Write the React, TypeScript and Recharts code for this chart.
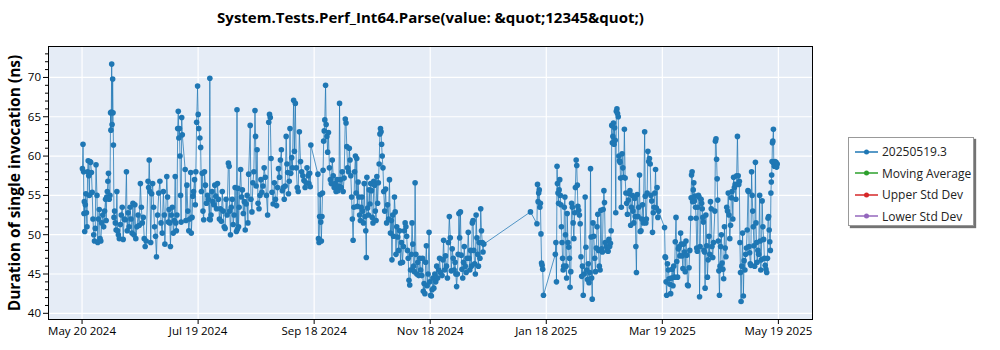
import React from "react";
import { LineChart, Line, XAxis, YAxis, CartesianGrid } from "recharts";

// x = days since May 20 2024, y = duration (ns)
const may2024Runs: [number, number][] = [
  [0.2, 58.4], [0.5, 61.5], [0.8, 58.0], [1.0, 52.7], [1.2, 54.2], [1.4, 50.4], [1.7, 53.8], [2.0, 55.2], [2.3, 52.8], [2.6, 51.0],
  [2.9, 58.0], [3.2, 59.4], [3.5, 57.5], [3.8, 55.0], [4.1, 59.3], [4.5, 59.2], [4.9, 57.9], [5.3, 55.4], [5.7, 52.0], [6.1, 50.0],
  [6.5, 49.2], [6.9, 50.8], [7.3, 58.9], [7.8, 55.0], [8.2, 49.0], [8.6, 52.0], [9.0, 53.2], [9.4, 49.5], [9.8, 49.2], [10.3, 51.5],
  [10.8, 52.5], [11.3, 51.0], [11.8, 53.0], [12.3, 54.5], [12.6, 51.8], [12.9, 54.8], [13.2, 55.5], [13.5, 56.8], [13.8, 57.8], [14.2, 54.5],
  [14.6, 55.0], [14.9, 65.5], [15.1, 63.3], [15.3, 65.6], [15.5, 71.7], [15.7, 64.0], [16.0, 69.8], [16.2, 65.5], [16.4, 61.4], [16.7, 52.2],
  [17.0, 53.0], [17.4, 51.5], [17.8, 50.6], [18.2, 55.5], [18.6, 50.5], [19.0, 50.0], [19.5, 49.5], [20.0, 51.3], [20.5, 52.5], [21.0, 53.5],
  [21.5, 49.4], [22.0, 52.0], [22.6, 51.9], [23.2, 58.0], [23.6, 50.5], [24.1, 52.8], [24.6, 51.0], [25.1, 53.5], [25.6, 52.0], [26.1, 50.2],
  [26.6, 54.0], [27.1, 50.0], [27.6, 53.8], [28.1, 49.5], [28.7, 51.0], [29.3, 52.5], [29.9, 51.2], [30.5, 56.5], [31.0, 53.5], [31.5, 51.5],
  [32.0, 52.2], [32.5, 49.5], [33.0, 48.5], [33.5, 49.2], [34.5, 56.8], [34.8, 56.0], [35.1, 59.5], [35.5, 55.5], [35.9, 49.0], [36.4, 55.2],
  [36.9, 56.5], [37.4, 53.5], [37.9, 51.0], [38.4, 49.8], [38.9, 47.2], [39.5, 52.5], [40.1, 55.3], [40.7, 56.8], [41.3, 51.5], [41.9, 50.2],
];

const julAug2024Runs: [number, number][] = [
  [42.5, 55.5], [43.0, 52.5], [43.3, 48.8], [44.3, 57.4], [44.7, 54.8], [45.1, 51.6], [45.5, 53.2], [45.9, 51.5], [46.2, 48.5], [46.7, 52.5],
  [47.2, 53.5], [47.7, 50.2], [48.2, 51.8], [48.7, 57.4], [49.0, 51.5], [49.3, 50.5], [49.6, 52.5], [50.0, 63.5], [50.3, 65.7], [50.6, 62.3],
  [50.9, 63.5], [51.2, 60.0], [51.5, 55.0], [51.8, 51.6], [52.1, 64.9], [52.4, 62.7], [53.9, 58.3], [54.3, 51.8], [54.8, 56.3], [55.3, 53.0],
  [55.8, 50.5], [56.3, 52.0], [56.8, 57.9], [57.1, 50.2], [57.5, 52.2], [57.9, 54.9], [58.3, 55.5], [58.8, 57.0], [59.2, 53.8], [59.5, 58.0],
  [59.9, 64.3], [60.4, 68.9], [60.7, 65.3], [61.0, 63.5], [61.6, 62.3], [62.0, 61.1], [62.4, 55.5], [62.8, 57.8], [63.2, 53.0], [63.6, 51.9],
  [64.0, 58.0], [64.5, 56.3], [65.0, 54.0], [65.6, 55.0], [66.0, 54.5], [66.6, 52.0], [66.8, 69.9], [67.0, 51.9], [67.4, 52.5], [67.9, 55.5],
  [68.4, 54.2], [68.9, 53.8], [69.4, 56.3], [69.9, 54.9], [70.3, 53.3], [70.8, 56.5], [71.3, 54.5], [71.8, 52.0], [72.3, 53.3], [72.8, 51.7],
  [73.3, 55.5], [73.8, 53.0], [74.3, 51.0], [74.8, 50.8], [75.3, 54.5], [75.8, 52.5], [76.5, 59.1], [76.9, 58.7], [77.2, 53.0], [77.6, 50.0],
  [78.0, 53.5], [78.5, 54.5], [79.0, 51.3], [79.5, 52.5], [80.0, 56.0], [80.7, 50.4], [81.0, 65.9], [81.2, 50.7], [81.5, 55.9], [81.8, 51.0],
  [82.1, 53.5], [82.9, 58.3], [83.4, 54.8], [83.8, 55.7], [84.3, 52.7], [84.8, 54.2], [85.3, 50.6], [85.8, 53.9], [86.3, 55.0], [86.7, 51.5],
  [87.1, 57.7], [87.9, 63.9], [88.3, 54.5], [88.8, 52.9], [89.3, 56.6], [89.8, 58.0], [90.4, 65.8], [90.7, 62.5], [91.0, 56.2], [91.5, 60.8],
  [92.0, 54.0], [92.5, 53.3], [93.0, 55.0], [93.5, 57.0], [94.0, 55.4], [94.6, 56.2], [95.2, 58.5], [95.8, 57.3], [96.4, 55.0], [97.0, 52.5],
  [97.6, 64.3], [98.0, 65.3], [98.4, 64.9], [98.8, 59.7], [99.3, 55.4], [99.9, 53.9],
];

const sepOct2024Runs: [number, number][] = [
  [100.5, 56.6], [101.1, 54.5], [101.7, 53.7], [102.2, 56.0], [102.7, 58.4], [103.2, 57.3], [103.7, 59.5], [104.2, 60.8], [104.7, 55.6], [105.2, 56.0],
  [105.7, 54.5], [106.2, 56.2], [106.7, 62.5], [107.1, 59.0], [107.5, 57.9], [107.9, 55.2], [108.3, 56.8], [108.7, 63.5], [109.1, 57.8], [109.6, 59.8],
  [110.0, 58.5], [110.6, 67.1], [111.0, 60.6], [111.5, 66.7], [112.0, 58.5], [112.5, 56.0], [113.0, 55.5], [113.6, 63.1], [114.2, 59.3], [114.8, 58.0],
  [115.4, 57.5], [116.0, 56.9], [116.6, 56.0], [117.1, 56.6], [117.6, 58.5], [118.2, 57.5], [118.6, 56.5], [119.0, 57.8], [119.3, 56.1], [119.6, 61.4],
  [123.3, 57.7], [123.6, 49.5], [123.9, 49.0], [124.2, 52.3], [124.5, 55.1], [124.8, 51.6], [125.1, 49.2], [125.4, 52.3], [125.7, 55.3], [126.0, 58.2],
  [126.3, 61.9], [126.6, 63.2], [126.9, 64.6], [127.3, 69.0], [127.6, 64.0], [128.0, 62.5], [128.4, 60.5], [128.8, 63.0], [129.3, 58.5], [129.8, 57.0],
  [130.3, 56.5], [130.8, 59.5], [131.3, 57.5], [131.8, 56.0], [132.3, 56.5], [132.8, 55.5], [133.3, 57.0], [133.8, 55.6], [134.3, 56.2], [134.6, 66.7],
  [135.0, 57.0], [135.5, 56.0], [136.0, 58.0], [136.5, 55.5], [137.0, 57.2], [137.6, 64.7], [138.0, 64.2], [138.4, 61.2], [138.8, 58.5], [139.3, 58.0],
  [139.7, 61.0], [140.1, 59.5], [140.5, 57.5], [140.9, 54.8], [141.3, 52.0], [141.7, 49.3], [142.1, 53.5], [142.5, 58.0], [142.9, 60.0], [143.3, 55.3],
  [143.6, 59.7], [143.9, 53.6], [144.3, 56.7], [144.7, 54.8], [145.1, 52.5], [145.5, 51.8], [145.9, 53.5], [146.3, 54.8], [146.7, 53.0], [147.1, 51.5],
  [147.5, 56.5], [147.9, 52.3], [148.3, 50.5], [148.6, 47.1], [148.9, 57.3], [149.3, 53.4], [149.7, 52.5], [150.1, 55.7], [150.5, 53.9], [150.9, 56.5],
  [151.3, 55.6], [151.7, 52.2], [152.1, 51.5], [152.5, 56.8], [152.9, 56.3], [153.3, 53.0], [153.7, 51.8], [154.1, 57.4], [154.5, 54.0], [154.9, 56.6],
  [155.3, 59.0], [155.7, 62.8], [156.0, 63.5], [156.3, 63.1], [156.6, 61.5], [156.9, 60.0], [157.3, 58.5], [157.7, 55.5], [158.2, 53.0], [158.7, 55.8],
  [159.2, 51.5], [159.7, 53.8],
];

const novDec2024Runs: [number, number][] = [
  [160.2, 52.0], [160.7, 57.0], [161.2, 50.2], [161.7, 51.8], [162.0, 46.8], [162.4, 52.5], [162.8, 49.8], [163.3, 54.8], [163.7, 52.9], [164.1, 47.5],
  [164.5, 51.0], [165.0, 49.7], [165.5, 48.0], [166.0, 50.5], [166.5, 46.4], [167.0, 49.0], [167.5, 46.5], [168.0, 48.5], [168.5, 50.5], [168.9, 51.5],
  [169.3, 51.0], [169.7, 49.8], [170.1, 48.0], [170.5, 47.0], [170.9, 44.2], [171.3, 43.6], [171.7, 45.5], [172.1, 47.5], [172.5, 51.5], [172.9, 48.8],
  [173.3, 46.0], [173.7, 45.3], [174.1, 56.6], [174.5, 47.5], [175.0, 45.0], [175.5, 46.5], [176.0, 44.8], [176.5, 47.0], [177.0, 45.5], [177.6, 44.8],
  [178.0, 47.0], [178.4, 42.8], [178.8, 43.8], [179.2, 42.5], [179.6, 46.5], [180.0, 48.6], [180.4, 43.5], [180.9, 45.0], [181.4, 50.3], [181.8, 44.0],
  [182.2, 42.3], [182.6, 42.2], [183.0, 43.0], [183.4, 44.5], [183.9, 43.2], [184.4, 45.0], [184.9, 44.0], [185.4, 46.0], [185.9, 44.5], [186.4, 45.5],
  [186.9, 47.0], [187.4, 45.2], [188.2, 44.8], [188.6, 46.8], [189.0, 49.3], [189.5, 45.5], [190.0, 47.3], [190.5, 46.0], [191.0, 44.5], [191.5, 49.0],
  [192.0, 52.3], [192.5, 49.6], [193.0, 45.4], [193.5, 48.2], [194.0, 47.0], [194.5, 45.5], [195.0, 46.5], [195.4, 45.0], [195.8, 43.4], [196.2, 45.0],
  [196.6, 47.5], [197.0, 52.7], [197.4, 49.6], [197.8, 52.9], [198.2, 47.4], [198.6, 45.6], [199.0, 44.5], [199.4, 46.5], [199.8, 48.5], [200.3, 46.0],
  [200.8, 45.2], [201.3, 47.0], [201.9, 50.3], [202.3, 47.0], [202.7, 45.5], [203.1, 48.0], [203.5, 46.0], [204.0, 51.5], [204.4, 51.8], [204.8, 48.0],
  [205.2, 46.3], [205.6, 45.0], [206.0, 52.5], [206.4, 49.6], [206.8, 47.5], [207.2, 46.0], [207.6, 49.0], [208.0, 47.0], [208.4, 53.3], [208.8, 50.5],
  [209.2, 49.0], [209.6, 47.8], [210.0, 48.8], [234.4, 52.9],
];

const janFeb2025Runs: [number, number][] = [
  [237.8, 51.4], [238.1, 56.4], [238.4, 54.2], [238.7, 55.3], [239.0, 55.7], [239.3, 53.5], [239.6, 54.0], [239.9, 50.1], [240.2, 46.4], [240.5, 46.1],
  [240.8, 45.6], [241.2, 42.3], [247.4, 47.5], [247.7, 49.0], [248.0, 44.0], [248.3, 58.7], [248.5, 56.5], [248.8, 55.3], [249.1, 54.0], [249.4, 55.7],
  [249.7, 57.0], [250.0, 55.0], [250.3, 53.8], [250.6, 51.0], [250.9, 49.0], [251.2, 47.0], [251.5, 45.5], [251.8, 46.0], [252.1, 53.5], [252.4, 54.8],
  [252.7, 50.0], [253.0, 46.0], [253.3, 44.5], [253.6, 52.7], [254.0, 49.0], [254.4, 48.4], [254.8, 47.0], [255.1, 43.3], [255.5, 45.3], [255.9, 54.0],
  [256.3, 53.5], [256.7, 51.5], [257.1, 49.5], [257.5, 52.8], [257.9, 56.0], [258.3, 59.5], [258.6, 58.8], [258.9, 56.3], [259.2, 53.6], [259.6, 53.1],
  [260.0, 52.5], [260.4, 51.4], [260.8, 47.2], [261.2, 44.7], [261.6, 46.0], [262.0, 42.3], [262.5, 45.0], [263.0, 54.8], [263.4, 48.4], [263.8, 45.5],
  [264.2, 44.3], [264.6, 46.3], [265.0, 43.9], [265.4, 45.2], [265.8, 58.4], [266.1, 49.7], [266.4, 44.5], [266.7, 41.8], [267.1, 51.5], [267.5, 49.8],
  [268.0, 47.0], [268.4, 45.3], [268.8, 48.3], [269.2, 51.0], [269.6, 52.6], [270.0, 48.0], [270.4, 46.0], [270.8, 45.5], [271.2, 53.1], [271.6, 48.2],
  [272.0, 47.8], [272.4, 53.2], [272.8, 55.6], [273.1, 54.1], [273.5, 49.0], [274.0, 48.5], [274.5, 48.0], [275.0, 47.9], [275.4, 49.4], [275.8, 48.5],
  [276.2, 48.9], [276.6, 50.5], [276.9, 63.9], [277.2, 61.7], [277.5, 62.5], [277.8, 64.2], [278.1, 61.5], [278.4, 63.6], [278.7, 62.0], [279.0, 52.8],
  [279.3, 65.7], [279.6, 66.0], [279.9, 65.4], [280.3, 65.0], [280.6, 60.0], [280.9, 59.4], [281.2, 59.2], [281.5, 57.2], [281.9, 53.5], [282.3, 60.3],
  [282.7, 58.5], [283.1, 57.3], [283.5, 63.4], [283.9, 57.2], [284.3, 55.3], [284.7, 54.0], [285.1, 52.6], [285.6, 54.4], [286.0, 55.2], [286.4, 55.6],
  [286.8, 51.2], [287.2, 53.5], [287.6, 55.0], [288.0, 53.0], [288.4, 51.5],
];

const marMay2025Runs: [number, number][] = [
  [288.9, 54.6], [289.2, 52.3], [289.5, 48.5], [289.8, 45.2], [290.2, 55.1], [290.6, 52.3], [291.0, 53.5], [291.4, 57.6], [291.8, 50.4], [292.2, 50.5],
  [292.6, 52.0], [293.0, 53.8], [293.4, 51.5], [294.1, 63.1], [294.4, 54.9], [294.7, 51.5], [295.0, 52.0], [295.4, 55.3], [295.8, 60.6], [296.2, 59.3],
  [296.6, 59.7], [297.0, 59.0], [297.4, 55.0], [297.8, 54.3], [298.2, 50.3], [298.6, 52.8], [299.0, 53.5], [299.4, 55.3], [299.8, 58.3], [300.2, 53.4],
  [300.6, 56.0], [301.0, 52.2], [301.4, 53.0], [304.5, 50.9], [304.8, 47.2], [305.0, 47.1], [305.3, 44.0], [305.6, 42.3], [306.0, 46.3], [306.5, 45.5],
  [306.9, 44.4], [307.3, 43.7], [307.7, 42.5], [308.1, 44.5], [308.5, 45.6], [308.9, 43.5], [309.3, 46.0], [309.7, 44.6], [310.1, 49.1], [310.5, 52.2],
  [310.9, 46.6], [311.3, 44.6], [311.7, 48.2], [312.1, 48.5], [312.5, 47.3], [312.9, 50.2], [313.3, 48.8], [313.7, 47.3], [314.1, 45.7], [314.5, 48.8],
  [314.9, 47.8], [315.3, 45.3], [315.7, 49.2], [316.1, 47.4], [316.5, 43.6], [316.9, 43.5], [317.3, 45.8], [317.7, 48.0], [318.2, 52.1], [318.4, 54.7],
  [318.6, 57.6], [318.9, 58.0], [319.2, 54.2], [319.5, 55.7], [319.8, 56.6], [320.1, 54.3], [320.4, 54.9], [320.7, 53.5], [321.0, 52.1], [321.3, 48.3],
  [321.6, 47.9], [321.9, 53.5], [322.2, 55.0], [322.5, 54.8], [322.8, 42.1], [323.1, 48.5], [323.6, 54.5], [323.9, 54.0], [324.2, 53.3], [324.5, 52.2],
  [324.8, 51.6], [325.1, 48.0], [325.4, 47.8], [325.7, 43.2], [326.1, 52.5], [326.5, 48.6], [326.9, 44.6], [327.3, 46.8], [327.7, 49.8], [328.1, 47.5],
  [328.5, 54.2], [328.9, 53.3], [329.3, 48.5], [329.7, 47.1], [330.1, 49.0], [330.8, 53.0], [331.1, 61.9], [331.4, 62.2], [331.7, 59.6], [332.0, 57.1],
  [332.3, 54.4], [332.6, 49.2], [332.9, 45.4], [333.2, 42.3], [333.5, 46.0], [333.8, 48.5], [334.2, 50.0], [334.6, 46.4], [335.0, 45.6], [335.4, 44.4],
  [335.8, 51.0], [336.2, 48.3], [336.6, 47.2], [337.0, 53.5], [337.4, 53.0], [337.8, 55.3], [338.2, 52.5], [338.6, 49.5], [339.0, 51.2], [339.4, 54.7],
  [339.8, 55.5], [340.2, 52.0], [340.6, 57.3], [341.0, 56.0], [341.4, 56.4], [341.8, 54.5], [342.2, 57.5], [342.6, 62.5], [343.0, 57.5], [343.3, 56.4],
  [343.6, 56.8], [343.9, 49.0], [344.2, 45.2], [344.5, 41.5], [344.9, 46.0], [345.3, 50.2], [345.7, 42.2], [346.1, 46.7], [346.5, 45.5], [346.9, 47.5],
  [347.3, 48.3], [347.7, 50.6], [348.1, 55.6], [348.4, 55.5], [348.7, 48.5], [349.0, 47.7], [349.3, 46.3], [349.6, 46.1], [350.0, 58.0], [350.3, 55.0],
  [350.6, 53.0], [350.9, 51.0], [351.2, 48.6], [351.6, 46.0], [352.0, 59.2], [352.3, 51.5], [352.6, 49.0], [352.9, 46.5], [353.3, 48.0], [353.7, 47.5],
  [354.2, 55.0], [354.5, 49.2], [354.8, 45.5], [355.1, 46.8], [355.5, 54.3], [355.9, 51.0], [356.3, 49.4], [356.7, 47.0], [357.1, 46.1], [357.5, 45.6],
  [357.9, 45.2], [358.3, 47.0], [358.6, 52.1], [358.9, 52.3], [359.2, 50.6], [359.5, 49.1], [359.8, 48.0], [360.1, 55.3], [360.3, 56.7], [360.5, 57.6],
  [360.7, 59.3], [360.9, 61.7], [361.1, 61.9], [361.4, 63.4], [361.6, 59.1], [361.9, 58.7], [362.2, 59.3], [362.5, 58.9], [362.8, 59.2], [363.1, 58.6],
  [363.4, 59.0],
];

const tickDays = [0, 60.67, 121.33, 182, 242.67, 303.33, 364];
const tickLabels = ["May 20 2024", "Jul 19 2024", "Sep 18 2024", "Nov 18 2024", "Jan 18 2025", "Mar 19 2025", "May 19 2025"];
const yMajor = [40, 45, 50, 55, 60, 65, 70];
const yTicks = Array.from({ length: 34 }, (_, i) => 40 + i);

const legendItems = [
  { name: "20250519.3", color: "#1f77b4" },
  { name: "Moving Average", color: "#2ca02c" },
  { name: "Upper Std Dev", color: "#d62728" },
  { name: "Lower Std Dev", color: "#9467bd" },
];

const data = [...may2024Runs, ...julAug2024Runs, ...sepOct2024Runs, ...novDec2024Runs, ...janFeb2025Runs, ...marMay2025Runs].map(
  ([day, ns]) => ({ day, ns })
);

const FONT = "'Open Sans', 'Noto Sans', sans-serif";
const PLOT = { left: 48, top: 46, right: 813, bottom: 320 };

function YTick(props: any) {
  const { y, payload } = props;
  const major = yMajor.includes(payload.value);
  return (
    <g>
      <line x1={PLOT.left - (major ? 5 : 3)} x2={PLOT.left} y1={y} y2={y} stroke="#000" />
      {major && (
        <text x={PLOT.left - 7} y={y} dy={4} textAnchor="end" fontSize={11.5} fontFamily={FONT} fill="#000">
          {payload.value}
        </text>
      )}
    </g>
  );
}

function XTick(props: any) {
  const { x, payload } = props;
  const i = tickDays.indexOf(payload.value);
  return (
    <g>
      <line x1={x} x2={x} y1={PLOT.bottom} y2={PLOT.bottom + 4} stroke="#000" />
      <text x={x} y={PLOT.bottom + 15} textAnchor="middle" fontSize={11.5} fontFamily={FONT} fill="#000">
        {tickLabels[i]}
      </text>
    </g>
  );
}

export default function App() {
  return (
    <div style={{ position: "fixed", left: 0, top: 0, width: 1000, height: 350, background: "#fff", fontFamily: FONT }}>
      <div style={{ position: "absolute", left: PLOT.left, width: PLOT.right - PLOT.left, top: 7, textAlign: "center", fontSize: 15, fontWeight: 700 }}>
        System.Tests.Perf_Int64.Parse(value: &amp;quot;12345&amp;quot;)
      </div>
      <div
        style={{
          position: "absolute", left: 14, top: (PLOT.top + PLOT.bottom) / 2, transform: "translate(-50%, -50%) rotate(-90deg)",
          whiteSpace: "nowrap", fontSize: 15.5, fontWeight: 700,
        }}
      >
        Duration of single invocation (ns)
      </div>
      <LineChart width={1000} height={350} data={data} margin={{ top: PLOT.top, right: 1000 - PLOT.right, bottom: 0, left: 18 }}>
        <CartesianGrid fill="#e5ecf6" stroke="#fff" strokeWidth={1.2} horizontalValues={yMajor} verticalValues={tickDays} />
        <XAxis
          type="number" dataKey="day" domain={[-17.8, 382.1]} ticks={tickDays} interval={0} allowDataOverflow
          height={30} axisLine={false} tickLine={false} tick={<XTick />}
        />
        <YAxis
          type="number" domain={[39.15, 74]} ticks={yTicks} interval={0} allowDataOverflow
          width={30} axisLine={false} tickLine={false} tick={<YTick />}
        />
        <Line
          type="linear" dataKey="ns" stroke="#1f77b4" strokeOpacity={0.75} strokeWidth={1}
          dot={{ r: 2.8, fill: "#1f77b4", stroke: "none" }} activeDot={false} isAnimationActive={false}
        />
      </LineChart>
      <div
        style={{
          position: "absolute", left: PLOT.left, top: PLOT.top, width: PLOT.right - PLOT.left, height: PLOT.bottom - PLOT.top,
          border: "1px solid #000", boxSizing: "border-box", pointerEvents: "none",
        }}
      />
      <div
        style={{
          position: "absolute", left: 848, top: 137, width: 126, height: 89, background: "#fff", border: "1px solid #999",
          boxShadow: "2px 2px 1px rgba(0,0,0,0.55)", boxSizing: "border-box", paddingTop: 3,
        }}
      >
        {legendItems.map((it) => (
          <div key={it.name} style={{ display: "flex", alignItems: "center", height: 21.5, fontSize: 12 }}>
            <svg width={33} height={10} style={{ flex: "none" }}>
              <line x1={6} x2={29} y1={5} y2={5} stroke={it.color} strokeWidth={1.5} />
              <circle cx={17.5} cy={5} r={2.5} fill={it.color} />
            </svg>
            <span style={{ color: "#222" }}>{it.name}</span>
          </div>
        ))}
      </div>
    </div>
  );
}
